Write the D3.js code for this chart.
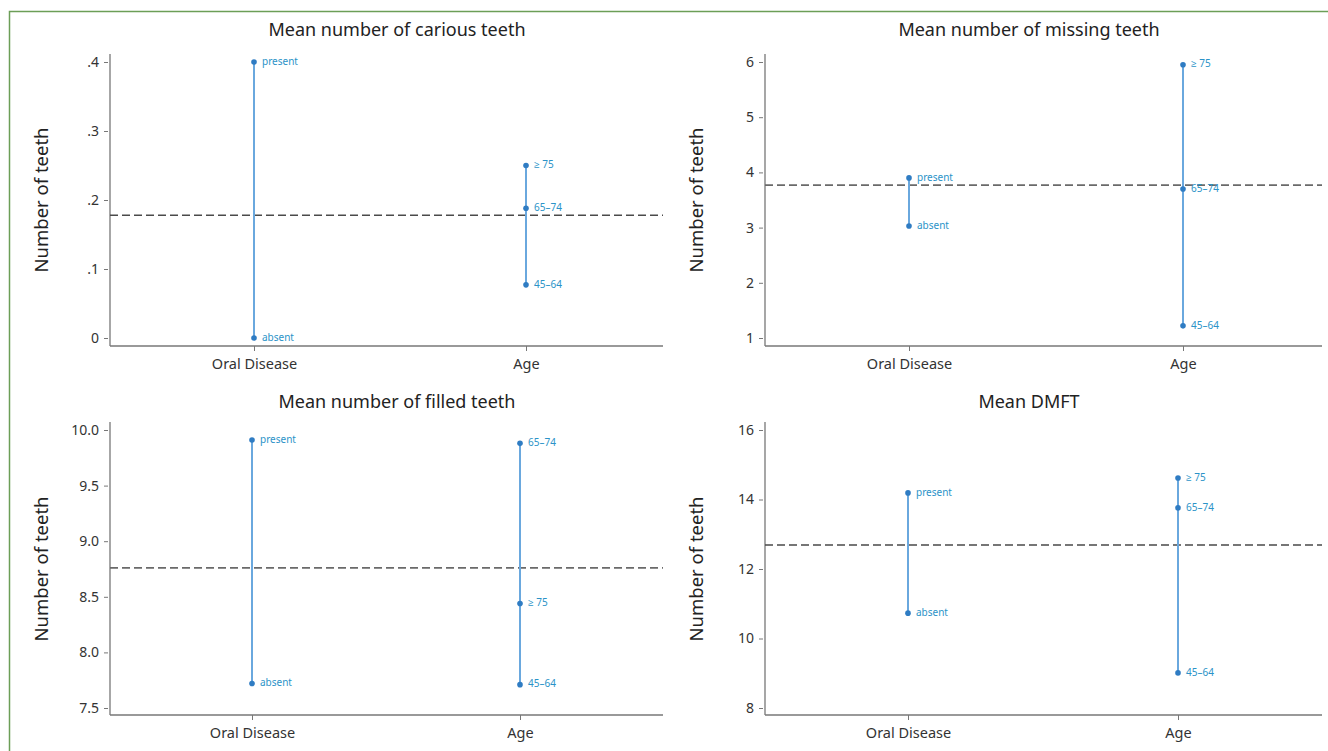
<!DOCTYPE html>
<html>
<head>
<meta charset="utf-8">
<script src="https://cdn.jsdelivr.net/npm/d3@7"></script>
<style>
  body { margin: 0; background: #fff; }
  text { font-family: "Noto Sans", "Open Sans", sans-serif; }
</style>
</head>
<body>
<svg width="1328" height="751"></svg>
<script>
// groups on the x axis
const groups = ["Oral Disease", "Age"];
const diseaseLevels = ["absent", "present"];
const ageLevels = ["45–64", "65–74", "≥ 75"];

// panel titles
const titles = ["Mean number of carious teeth", "Mean number of missing teeth",
                "Mean number of filled teeth", "Mean DMFT"];

// values
const cariousDisease = [0.0, 0.40];
const cariousAge = [0.077, 0.188, 0.25];
const cariousMean = 0.178;

const missingDisease = [3.03, 3.90];
const missingAge = [1.22, 3.70, 5.95];
const missingMean = 3.77;

const filledDisease = [7.72, 9.91];
const filledAge = [7.71, 9.88, 8.44];
const filledMean = 8.76;

const dmftDisease = [10.73, 14.19];
const dmftAge = [9.01, 13.76, 14.62];
const dmftMean = 12.69;

// tick labels
const cariousTicks = [0, 0.1, 0.2, 0.3, 0.4];
const cariousTickLabels = ["0", ".1", ".2", ".3", ".4"];
const missingTicks = [1, 2, 3, 4, 5, 6];
const filledTicks = [7.5, 8.0, 8.5, 9.0, 9.5, 10.0];
const dmftTicks = [8, 10, 12, 14, 16];

let svg = d3.select("svg");

// green frame
svg.append("path")
    .attr("d", "M9.5,760 L9.5,11.5 L1340,11.5")
    .attr("fill", "none")
    .attr("stroke", "#6c9e57")
    .attr("stroke-width", 1.5);

let panels = [
    {title: titles[0], disease: cariousDisease, age: cariousAge, mean: cariousMean,
     ticks: cariousTicks, fmt: function(d, i) { return cariousTickLabels[i]; },
     x0: 110, x1: 663, g0: 254, g1: 526, yTop: 62, yBot: 338, axisY: 346, titleX: 397, titleY: 31, labelX: 43, dash: "#4a4a4a"},
    {title: titles[1], disease: missingDisease, age: missingAge, mean: missingMean,
     ticks: missingTicks, fmt: d3.format("d"),
     x0: 765, x1: 1322, g0: 909, g1: 1183, yTop: 62, yBot: 338, axisY: 346, titleX: 1029, titleY: 31, labelX: 698, dash: "#6a6a6a"},
    {title: titles[2], disease: filledDisease, age: filledAge, mean: filledMean,
     ticks: filledTicks, fmt: d3.format(".1f"),
     x0: 110, x1: 663, g0: 252, g1: 520, yTop: 430, yBot: 708, axisY: 715, titleX: 397, titleY: 403, labelX: 43, dash: "#6a6a6a"},
    {title: titles[3], disease: dmftDisease, age: dmftAge, mean: dmftMean,
     ticks: dmftTicks, fmt: d3.format("d"),
     x0: 765, x1: 1322, g0: 908, g1: 1178, yTop: 430, yBot: 708, axisY: 715, titleX: 1029, titleY: 403, labelX: 698, dash: "#4a4a4a"}
];

panels.forEach(function(p) {
    let g = svg.append("g");

    let x = d3.scalePoint().domain(groups).range([p.g0, p.g1]);
    let y = d3.scaleLinear()
        .domain([p.ticks[0], p.ticks[p.ticks.length - 1]])
        .range([p.yBot, p.yTop]);

    // title
    g.append("text")
        .attr("x", p.titleX)
        .attr("y", p.titleY)
        .attr("text-anchor", "middle")
        .attr("dominant-baseline", "middle")
        .style("font-size", "18px")
        .style("fill", "#222")
        .text(p.title);

    // y axis title
    g.append("text")
        .attr("transform", "translate(" + p.labelX + "," + ((p.yTop + p.yBot) / 2) + ") rotate(-90)")
        .attr("text-anchor", "middle")
        .attr("dominant-baseline", "middle")
        .style("font-size", "18.5px")
        .style("fill", "#222")
        .text("Number of teeth");

    // axis lines
    g.append("line")
        .attr("x1", p.x0).attr("x2", p.x0)
        .attr("y1", p.yTop - 8).attr("y2", p.axisY)
        .attr("stroke", "#777").attr("stroke-width", 1.3);
    g.append("line")
        .attr("x1", p.x0).attr("x2", p.x1)
        .attr("y1", p.axisY).attr("y2", p.axisY)
        .attr("stroke", "#777").attr("stroke-width", 1.3);

    // y ticks
    let yAxis = d3.axisLeft(y).tickValues(p.ticks).tickFormat(p.fmt).tickSize(4).tickPadding(5);
    let ya = g.append("g").attr("transform", "translate(" + (p.x0 - 2) + ",0)").call(yAxis);
    ya.select(".domain").remove();
    ya.selectAll(".tick line").attr("stroke", "#777");
    ya.selectAll(".tick text").style("font-size", "14px").style("fill", "#333")
        .style("font-family", "'Noto Sans', sans-serif");

    // x ticks
    let xAxis = d3.axisBottom(x).tickSize(5).tickPadding(8);
    let xa = g.append("g").attr("transform", "translate(0," + p.axisY + ")").call(xAxis);
    xa.select(".domain").remove();
    xa.selectAll(".tick line").attr("stroke", "#777");
    xa.selectAll(".tick text").style("font-size", "14.5px").style("fill", "#333")
        .style("font-family", "'Noto Sans', sans-serif");

    // overall mean
    g.append("line")
        .attr("x1", p.x0).attr("x2", p.x1)
        .attr("y1", y(p.mean)).attr("y2", y(p.mean))
        .attr("stroke", p.dash)
        .attr("stroke-width", 1.6)
        .attr("stroke-dasharray", "8,4");

    let sets = [
        {group: groups[0], levels: diseaseLevels, vals: p.disease},
        {group: groups[1], levels: ageLevels, vals: p.age}
    ];

    sets.forEach(function(s) {
        let cx = x(s.group);
        g.append("line")
            .attr("x1", cx).attr("x2", cx)
            .attr("y1", y(d3.min(s.vals))).attr("y2", y(d3.max(s.vals)))
            .attr("stroke", "#6aa8de")
            .attr("stroke-width", 2);

        let pts = s.vals.map(function(v, i) { return {v: v, label: s.levels[i]}; });

        g.selectAll(null)
            .data(pts)
            .enter()
            .append("circle")
            .attr("cx", cx)
            .attr("cy", function(d) { return y(d.v); })
            .attr("r", 2.8)
            .attr("fill", "#2f7cc3");

        g.selectAll(null)
            .data(pts)
            .enter()
            .append("text")
            .attr("x", cx + 8)
            .attr("y", function(d) { return y(d.v); })
            .attr("dominant-baseline", "middle")
            .style("font-size", "10px")
            .style("fill", "#2b93c8")
            .text(function(d) { return d.label; });
    });
});
</script>
</body>
</html>
